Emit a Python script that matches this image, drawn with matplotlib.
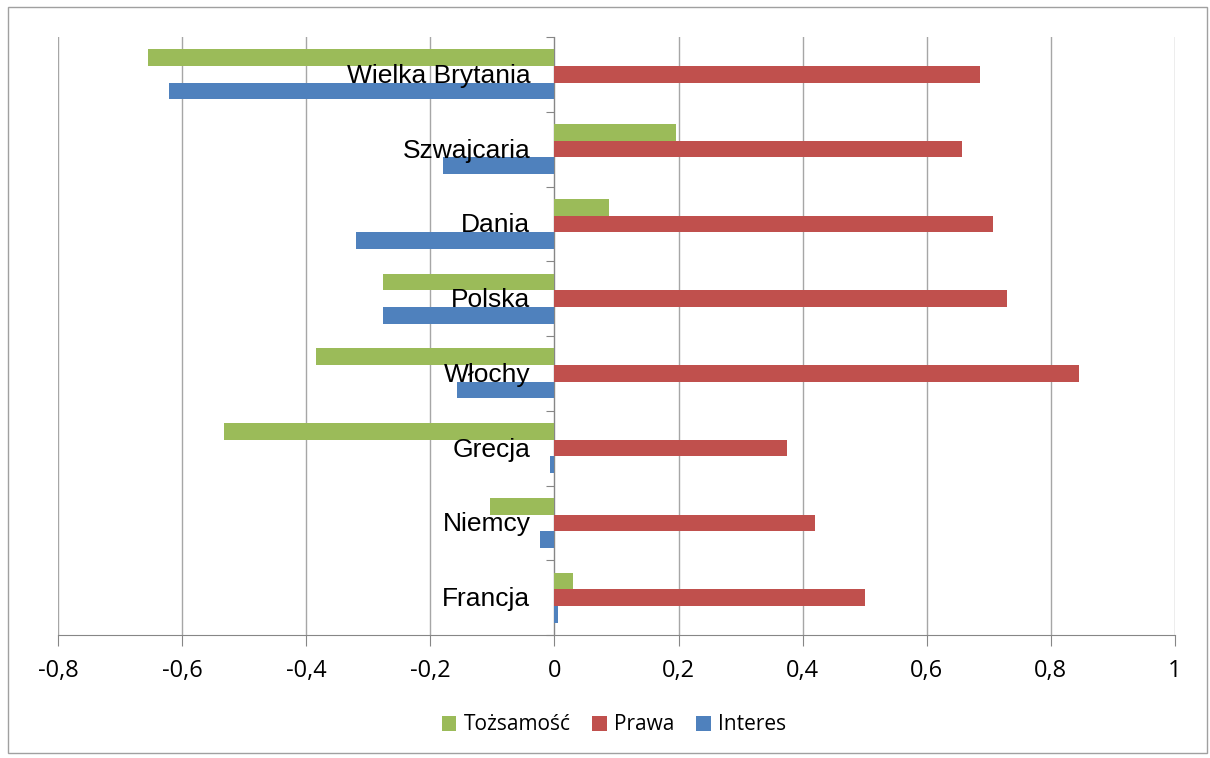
#!/usr/bin/env python3
''' Tozsamosc / Prawa / Interes - wykres slupkowy poziomy '''
import numpy as np
import matplotlib
matplotlib.use('Agg')
from matplotlib import pyplot as plt
from matplotlib.patches import Rectangle
from matplotlib.ticker import FuncFormatter
import matplotlib.transforms as mtransforms

# Kraje od dolu do gory
kraje = ['Francja', 'Niemcy', 'Grecja', 'Włochy', 'Polska', 'Dania',
         'Szwajcaria', 'Wielka Brytania']
tozsamosc = [0.030, -0.104, -0.532, -0.384, -0.276, 0.088, 0.196, -0.655]
prawa = [0.500, 0.420, 0.375, 0.845, 0.729, 0.707, 0.657, 0.686]
interes = [0.006, -0.023, -0.007, -0.157, -0.276, -0.320, -0.180, -0.621]

ticks_x = [-0.8, -0.6, -0.4, -0.2, 0, 0.2, 0.4, 0.6, 0.8, 1.0]

c_green = '#9BBB59'
c_red = '#C0504D'
c_blue = '#4F81BD'
c_axis = '#868686'

fig = plt.figure(figsize=(12.1, 7.58), dpi=100)
ax = fig.add_axes([58/1210, 1 - 635/758, (1175 - 58)/1210, (635 - 37)/758])

y = np.arange(len(kraje))
h = 0.222
ax.barh(y + h, tozsamosc, height=h, color=c_green, label='Tożsamość', zorder=2)
ax.barh(y, prawa, height=h, color=c_red, label='Prawa', zorder=2)
ax.barh(y - h, interes, height=h, color=c_blue, label='Interes', zorder=2)

ax.set_xlim(-0.8, 1.0)
ax.set_ylim(-0.5, len(kraje) - 0.5)
ax.set_xticks(ticks_x)
ax.xaxis.set_major_formatter(FuncFormatter(
    lambda v, p: ('%g' % round(v, 1)).replace('.', ',')))
ax.tick_params(axis='x', direction='out', length=8, color=c_axis,
               labelsize=17, pad=9)
for lab in ax.get_xticklabels():
    lab.set_fontfamily('Open Sans')
ax.grid(axis='x', color='#A6A6A6', linewidth=1, zorder=0)
ax.set_axisbelow(True)

# os kategorii w zerze
ax.spines['left'].set_position(('data', 0))
ax.spines['left'].set_color(c_axis)
ax.spines['left'].set_zorder(1.8)
ax.spines['bottom'].set_color(c_axis)
ax.spines['top'].set_visible(False)
ax.spines['right'].set_visible(False)
ax.set_yticks(np.arange(len(kraje) + 1) - 0.5)
ax.set_yticklabels([])
ax.tick_params(axis='y', direction='out', length=6, color=c_axis)

# etykiety krajow nad slupkami
off = mtransforms.offset_copy(ax.transData, fig=fig, x=-24, y=-1.5, units='dots')
for i, k in enumerate(kraje):
    ax.text(0, i, k, transform=off, ha='right', va='center',
            fontsize=19, family='Liberation Sans', zorder=5)

leg = fig.legend(loc='center', bbox_to_anchor=(614/1210, 1 - 725/758),
                 ncol=3, frameon=False, handlelength=0.7, handleheight=0.7,
                 handletextpad=0.35, columnspacing=1.05,
                 prop={'family': 'Open Sans', 'size': 15})

# ramka wykresu
fig.patches.append(Rectangle((8/1210, 1 - 753/758), (1207 - 8)/1210,
                             (753 - 7)/758, transform=fig.transFigure,
                             fill=False, edgecolor='#A0A0A0', linewidth=1))

fig.savefig('out.png', dpi=100)
